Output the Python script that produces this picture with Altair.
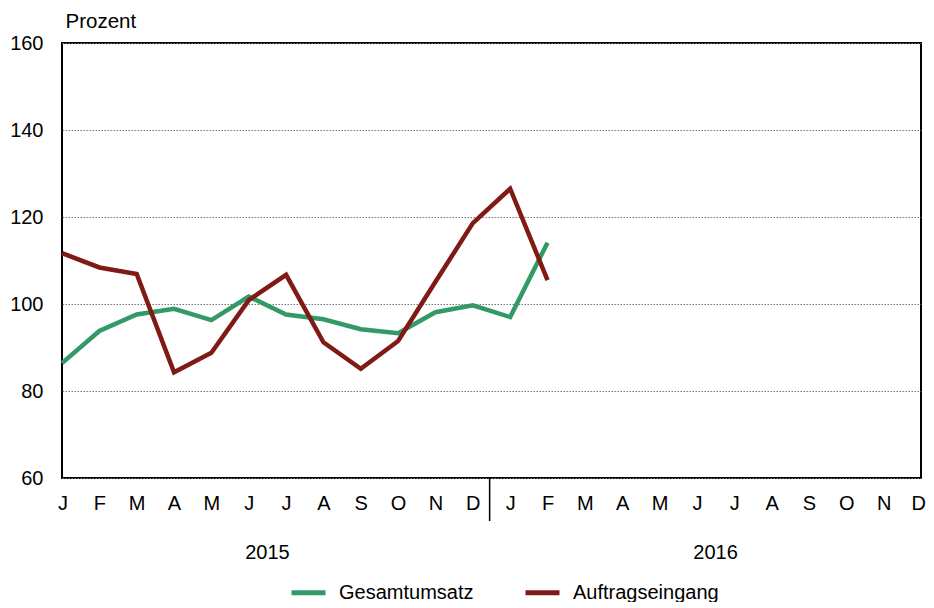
import altair as alt
import pandas as pd

months = ["J", "F", "M", "A", "M", "J", "J", "A", "S", "O", "N", "D"] * 2
gesamt = [86.4, 93.8, 97.6, 98.9, 96.3, 101.7, 97.6, 96.5, 94.2, 93.3, 98.1, 99.7, 97.0, 114.1]
auftrag = [111.7, 108.4, 106.9, 84.3, 88.8, 100.9, 106.7, 91.2, 85.1, 91.5, 105.1, 118.6, 126.5, 105.5]
years = ["2015", "2016"]
year_center = [5.5, 17.5]
year_break = [11.45]
series = ["Gesamtumsatz", "Auftragseingang"]
colors = ["#339966", "#7f1a14"]
y_ticks = [60, 80, 100, 120, 140, 160]

FONT = "Liberation Sans"

df = pd.DataFrame({
    "m": list(range(len(gesamt))) + list(range(len(auftrag))),
    "value": gesamt + auftrag,
    "series": [series[0]] * len(gesamt) + [series[1]] * len(auftrag),
})
df_years = pd.DataFrame({"x": year_center, "label": years})
df_break = pd.DataFrame({"x": year_break})

label_expr = "[" + ",".join(f"'{m}'" for m in months) + "][datum.value]"
x_scale = alt.Scale(domain=[0, len(months) - 1], nice=False, zero=False)
y_scale = alt.Scale(domain=[60, 160], nice=False, zero=False)

x_axis = alt.Axis(values=list(range(len(months))), labelExpr=label_expr, title=None,
                  domain=False, ticks=False, tickSize=0, grid=False, labelFontSize=20,
                  labelPadding=15, labelColor="black", labelFont=FONT, labelFlush=True,
                  labelFlushOffset=4.5, labelOverlap=False)
x_enc = alt.X("m:Q", scale=x_scale, axis=x_axis)
y_enc = alt.Y(
    "value:Q", scale=y_scale,
    axis=alt.Axis(values=y_ticks, title="Prozent", titleAngle=0, titleX=3, titleY=-22,
                  titleAlign="left", titleBaseline="middle", titleFontSize=20.5,
                  titleFontWeight="normal", titleFont=FONT, titleColor="black",
                  domain=False, ticks=False, tickSize=0, labelFontSize=20, labelPadding=19,
                  labelColor="black", labelFont=FONT, grid=True, gridColor="#777777",
                  gridDash=[1.5, 1.5], gridWidth=1, labelOverlap=False),
)
color_enc = alt.Color(
    "series:N", scale=alt.Scale(domain=series, range=colors),
    legend=alt.Legend(title=None, orient="none", legendX=227, legendY=530,
                      direction="horizontal", symbolType="stroke", symbolStrokeWidth=5,
                      symbolSize=1156, labelFontSize=20, labelFont=FONT, labelColor="black",
                      labelOffset=11, columnPadding=41, padding=0),
)

base = alt.Chart(df)
green = base.transform_filter(alt.datum.series == series[0]).mark_line(
    strokeWidth=4.5, strokeJoin="miter").encode(x=x_enc, y=y_enc, color=color_enc)
red = base.transform_filter(alt.datum.series == series[1]).mark_line(
    strokeWidth=4.5, strokeJoin="miter").encode(x=x_enc, y=y_enc, color=color_enc)

year_text = alt.Chart(df_years).mark_text(
    fontSize=20, font=FONT, color="black", baseline="middle", align="center"
).encode(x=alt.X("x:Q", scale=x_scale, axis=x_axis), y=alt.value(510), text="label:N")

sep = alt.Chart(df_break).mark_rule(color="black", strokeWidth=1.5).encode(
    x=alt.X("x:Q", scale=x_scale, axis=x_axis), y=alt.value(435), y2=alt.value(478))

chart = alt.layer(green, red, year_text, sep).properties(
    width=859, height=435,
    autosize=alt.AutoSizeParams(type="none"),
    padding={"left": 54, "top": 35, "right": 5, "bottom": 124},
).configure(font=FONT).configure_view(stroke="black", strokeWidth=2).configure_axisX(
    labelOverlap=False)

chart.save("out.html", embed_options={"renderer": "svg", "actions": False})
